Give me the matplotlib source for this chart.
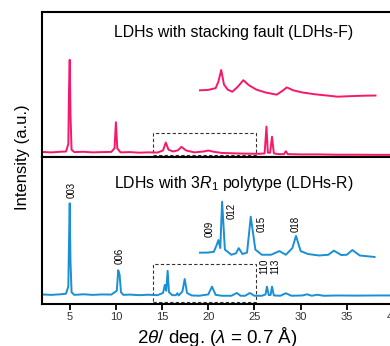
import matplotlib
matplotlib.use('Agg')
import matplotlib.pyplot as plt
from matplotlib.patches import Rectangle

plt.rcParams['font.family'] = ['Liberation Sans', 'DejaVu Sans']
plt.rcParams['mathtext.fontset'] = 'custom'
plt.rcParams['mathtext.rm'] = 'Liberation Sans'
plt.rcParams['mathtext.it'] = 'Liberation Sans:italic'

pink = '#f8176a'
blue = '#1a8fd3'

# LDHs-F full pattern (2theta, intensity in panel units 0-100)
f_x = [2.0, 3.0, 4.0, 4.6, 4.85, 4.92, 5.0, 5.08, 5.2, 5.5, 6.5, 7.5, 8.5, 9.5, 9.85, 10.0, 10.15, 10.5,
       11.5, 12.5, 13.5, 14.5, 15.1, 15.4, 15.7, 16.2, 16.7, 17.1, 17.6, 18.5, 19.5, 20.0, 20.6, 21.5,
       22.5, 23.5, 24.5, 25.5, 26.1, 26.3, 26.45, 26.7, 26.9, 27.1, 27.6, 28.2, 28.4, 28.6, 30.0, 32.0,
       34.0, 36.0, 38.0, 40.0]
f_y = [3.5, 3.2, 3.6, 3.8, 9.0, 46.0, 67.0, 30.0, 5.0, 3.4, 3.6, 3.2, 3.4, 3.5, 6.0, 24.0, 6.0, 3.2,
       3.4, 3.0, 3.2, 3.1, 4.5, 10.0, 5.0, 3.8, 4.6, 7.0, 4.5, 3.2, 3.8, 4.5, 3.6, 2.8,
       2.6, 2.4, 2.3, 2.2, 2.5, 21.0, 3.0, 3.0, 14.0, 2.5, 2.0, 2.0, 4.0, 2.0, 1.8, 1.8,
       1.6, 1.6, 1.5, 1.5]

# LDHs-F magnified region
fi_x = [19.1, 20.0, 20.8, 21.1, 21.4, 21.7, 22.1, 22.6, 23.2, 23.8, 24.4, 25.2, 26.2, 27.4, 28.0,
        28.5, 29.2, 30.2, 31.5, 33.0, 34.0, 35.5, 37.0, 38.1]
fi_y = [46.0, 46.3, 47.5, 52.0, 60.0, 50.0, 46.5, 45.0, 48.5, 53.0, 49.5, 46.5, 44.5, 43.0, 45.5,
        48.0, 46.0, 44.5, 43.3, 42.3, 41.6, 42.0, 42.3, 42.4]

# LDHs-R full pattern
r_x = [2.0, 3.0, 4.0, 4.6, 4.85, 4.93, 5.0, 5.08, 5.2, 5.5, 6.5, 7.5, 8.5, 9.5, 10.1, 10.25, 10.4,
       10.55, 10.8, 11.5, 12.5, 13.5, 14.5, 15.1, 15.3, 15.45, 15.6, 15.75, 16.1, 16.5, 16.65, 16.8,
       17.2, 17.45, 17.7, 18.2, 19.0, 20.0, 20.4, 20.8, 21.5, 22.5, 23.1, 23.5, 24.0, 24.5, 25.0,
       25.8, 26.2, 26.35, 26.55, 26.75, 26.9, 27.1, 27.8, 28.4, 29.0, 30.2, 30.7, 31.2, 31.8, 32.5,
       34.0, 36.0, 38.0, 40.0]
r_y = [6.5, 6.2, 6.6, 7.0, 12.0, 45.0, 68.5, 30.0, 8.0, 6.2, 6.6, 6.2, 6.5, 6.4, 9.0, 23.0, 20.0,
       8.0, 6.2, 6.4, 6.0, 6.3, 6.0, 7.5, 13.0, 9.0, 22.6, 8.0, 6.0, 6.0, 7.3, 5.8,
       8.5, 17.0, 7.5, 5.8, 5.6, 6.5, 11.8, 6.2, 5.6, 5.6, 7.5, 5.6, 5.6, 7.5, 5.6,
       5.6, 6.5, 11.8, 6.0, 6.2, 11.8, 5.8, 5.6, 7.3, 5.6, 5.8, 6.6, 5.6, 6.3, 5.6,
       5.8, 5.7, 5.8, 5.8]

# LDHs-R magnified region
ri_x = [19.1, 20.0, 20.6, 20.9, 21.1, 21.3, 21.5, 21.8, 22.5, 23.0, 23.3, 23.7, 24.2, 24.6, 25.1,
        25.8, 26.8, 27.7, 28.4, 29.1, 29.5, 30.0, 30.8, 32.0, 33.0, 33.6, 34.4, 35.0, 35.6, 36.4,
        37.2, 38.0]
ri_y = [34.9, 35.0, 35.5, 40.0, 43.5, 38.0, 69.6, 37.0, 33.5, 34.5, 38.0, 34.0, 35.0, 59.4, 37.0,
        33.5, 33.5, 36.0, 33.5, 38.0, 46.3, 36.0, 34.0, 33.0, 33.5, 36.3, 33.3, 33.5, 36.7, 33.0,
        32.5, 32.0]

peak_labels = ['003', '006', '110', '113', '009', '012', '015', '018']
peak_lx = [5.2, 10.4, 26.05, 27.25, 20.2, 22.55, 25.8, 29.5]
peak_ly = [72.0, 27.2, 20.7, 20.7, 45.6, 57.8, 49.2, 49.2]

fig = plt.figure(figsize=(3.9, 3.46), dpi=100)
ax1 = fig.add_axes([0.1077, 0.5462, 0.9, 0.4191])
ax2 = fig.add_axes([0.1077, 0.1214, 0.9, 0.4248], sharex=ax1)

for ax in (ax1, ax2):
    ax.set_ylim(0, 100)
    ax.set_yticks([])
    for s in ax.spines.values():
        s.set_linewidth(1.5)

ax1.set_xlim(2, 40)
ax1.plot(f_x, f_y, color=pink, lw=1.4)
ax1.plot(fi_x, fi_y, color=pink, lw=1.4)
ax1.add_patch(Rectangle((14.05, 1.4), 11.15, 15.0, fill=False, ls=(0, (3, 2)), lw=0.8, ec='#333333'))
ax1.tick_params(axis='x', direction='out', length=4, width=1.3, labelbottom=False)
ax1.text(9.8, 86, 'LDHs with stacking fault (LDHs-F)', fontsize=11.4, va='center', ha='left')

ax2.plot(r_x, r_y, color=blue, lw=1.4)
ax2.plot(ri_x, ri_y, color=blue, lw=1.4)
ax2.add_patch(Rectangle((14.05, 1.6), 11.15, 25.6, fill=False, ls=(0, (3, 2)), lw=0.8, ec='#333333'))
ax2.set_xticks([5, 10, 15, 20, 25, 30, 35, 40])
ax2.tick_params(axis='x', direction='out', length=4.5, width=1.3, labelsize=8, pad=1, labelcolor='#333333')
ax2.text(9.8, 82.3, 'LDHs with $3R_1$ polytype (LDHs-R)', fontsize=11.4, va='center', ha='left')
for lab, px, py in zip(peak_labels, peak_lx, peak_ly):
    ax2.text(px, py, lab, rotation=90, fontsize=7, ha='center', va='bottom')

fig.text(0.556, 0.0095, r'2$\theta$/ deg. ($\lambda$ = 0.7 Å)', fontsize=13.5, ha='center', va='baseline')
fig.text(0.058, 0.5462, 'Intensity (a.u.)', rotation=90, fontsize=12, ha='center', va='center')

fig.savefig('out.png', dpi=100)
